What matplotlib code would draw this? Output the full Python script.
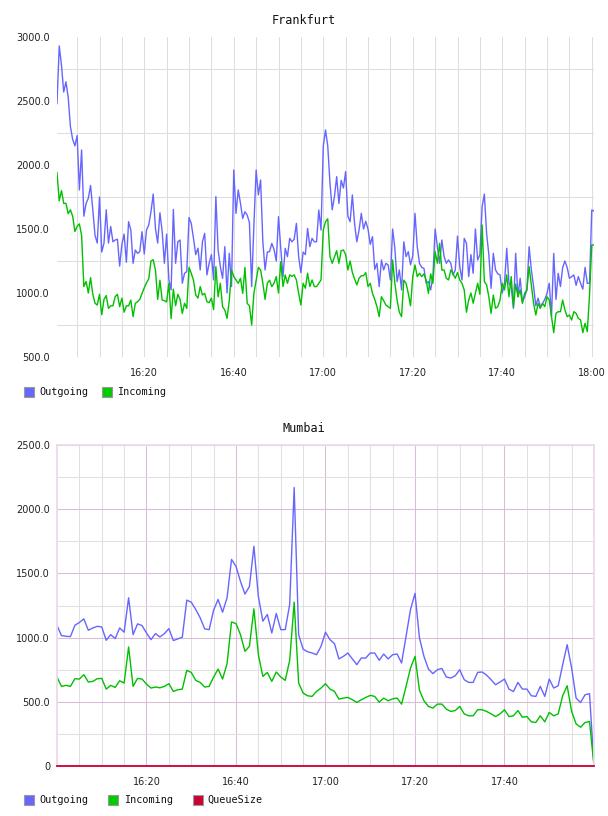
import matplotlib
matplotlib.use("Agg")
import matplotlib.pyplot as plt
import matplotlib.dates as mdates
from matplotlib.patches import Rectangle
from matplotlib.ticker import FixedLocator, FuncFormatter
import numpy as np
import pandas as pd

# Frankfurt, one sample every 30 s (16:00:30 .. 18:00:30), 10 values per 5 minutes
fra_outgoing = [
    2480, 2930, 2780, 2570, 2650, 2530, 2300, 2200, 2150, 2230,
    1805, 2117, 1600, 1700, 1740, 1840, 1650, 1450, 1390, 1750,
    1320, 1390, 1650, 1390, 1520, 1400, 1414, 1420, 1210, 1380,
    1460, 1240, 1557, 1492, 1232, 1336, 1310, 1323, 1479, 1305,
    1492, 1531, 1635, 1773, 1505, 1390, 1627, 1480, 1232, 1460,
    1102, 1024, 1653, 1232, 1400, 1414, 1076, 1154, 1167, 1590,
    1544, 1427, 1300, 1350, 1180, 1400, 1466, 1141, 1232, 1300,
    1102, 1753, 1336, 1206, 1115, 1362, 1000, 1310, 1050, 1961,
    1622, 1805, 1700, 1583, 1635, 1609, 1550, 1050, 1531, 1961,
    1766, 1883, 1400, 1180, 1320, 1323, 1388, 1340, 1250, 1596,
    1349, 1128, 1349, 1284, 1427, 1400, 1420, 1544, 1284, 1159,
    1320, 1300, 1505, 1362, 1427, 1400, 1400, 1648, 1492, 2144,
    2274, 2150, 1857, 1650, 1753, 1909, 1700, 1880, 1820, 1948,
    1600, 1557, 1766, 1540, 1400, 1492, 1622, 1500, 1560, 1500,
    1380, 1440, 1185, 1232, 1050, 1258, 1180, 1232, 1219, 1102,
    1500, 1349, 1089, 1180, 1024, 1400, 1284, 1323, 1220, 1290,
    1622, 1362, 1232, 1200, 1193, 1076, 1089, 1024, 1128, 1500,
    1362, 1232, 1414, 1284, 1232, 1258, 1232, 1141, 1180, 1445,
    1206, 1102, 1427, 1388, 1128, 1300, 1154, 1500, 1258, 1300,
    1674, 1773, 1466, 1300, 1037, 1310, 1180, 1150, 1141, 1000,
    1076, 1349, 1076, 1050, 880, 1310, 971, 1115, 930, 971,
    1024, 1362, 1180, 1050, 900, 960, 893, 919, 950, 997,
    1076, 815, 1310, 950, 1154, 1050, 1200, 1250, 1200, 1115,
    1128, 1141, 1060, 1128, 1076, 1030, 1200, 1076, 1076, 1648,
    1640,
]
fra_incoming = [
    1940, 1720, 1800, 1700, 1700, 1620, 1650, 1600, 1480, 1520,
    1540, 1450, 1050, 1090, 1000, 1120, 990, 920, 906, 990,
    830, 950, 980, 880, 900, 900, 971, 990, 893, 960,
    850, 900, 900, 945, 815, 919, 932, 950, 997, 1040,
    1080, 1110, 1250, 1260, 1180, 950, 1100, 945, 940, 930,
    1076, 800, 1030, 900, 990, 950, 840, 920, 880, 1200,
    1154, 1100, 985, 960, 1050, 984, 997, 932, 924, 960,
    870, 1206, 971, 1076, 893, 867, 802, 940, 1180, 1128,
    1102, 1076, 1115, 997, 1200, 919, 900, 750, 997, 1100,
    1200, 1180, 1076, 950, 1076, 1100, 1050, 1076, 1128, 1000,
    1245, 1050, 1141, 1076, 1141, 1130, 1141, 1102, 997, 906,
    1076, 1037, 1154, 1050, 1102, 1050, 1050, 1076, 1102, 1492,
    1557, 1580, 1284, 1232, 1280, 1330, 1232, 1330, 1336, 1300,
    1180, 1250, 1160, 1110, 1063, 1115, 1135, 1135, 1159, 1050,
    1076, 997, 950, 893, 815, 971, 940, 906, 893, 880,
    1258, 1076, 945, 850, 815, 1100, 1076, 997, 900, 1128,
    1219, 1128, 1154, 1128, 1150, 1100, 997, 1150, 1076, 1323,
    1232, 1388, 1180, 1180, 1115, 1102, 1180, 1150, 1115, 1160,
    1102, 1076, 1024, 850, 945, 1000, 920, 997, 1076, 990,
    1531, 1089, 1063, 970, 841, 984, 880, 893, 945, 1076,
    1024, 1141, 971, 1128, 893, 1070, 971, 1024, 919, 997,
    1024, 1206, 1063, 919, 828, 919, 880, 919, 893, 971,
    945, 815, 690, 841, 854, 854, 945, 867, 815, 828,
    789, 854, 841, 802, 789, 690, 763, 698, 984, 1375,
    1375,
]

# Mumbai, one sample per minute (16:00 .. 18:00)
mum_outgoing = [
    1094, 1016, 1010, 1008, 1096, 1118, 1146, 1057, 1075, 1088,
    1083, 979, 1023, 992, 1075, 1042, 1310, 1023, 1107, 1094,
    1036, 984, 1031, 1005, 1031, 1070, 977, 990, 1003, 1292,
    1276, 1219, 1154, 1068, 1062, 1214, 1297, 1198, 1310, 1609,
    1555, 1438, 1339, 1398, 1711, 1320, 1128, 1180, 1036, 1188,
    1062, 1062, 1258, 2169, 1023, 910, 890, 880, 867, 932,
    1042, 984, 953, 834, 854, 880, 834, 789, 841, 841,
    880, 880, 823, 872, 834, 867, 872, 802, 1010, 1219,
    1344, 997, 854, 755, 719, 750, 760, 693, 685, 703,
    750, 672, 651, 651, 729, 732, 708, 672, 633, 654,
    677, 599, 580, 651, 599, 599, 547, 542, 620, 542,
    677, 607, 625, 789, 945, 763, 529, 495, 555, 563,
    0,
]
mum_incoming = [
    693, 620, 628, 620, 680, 677, 711, 654, 659, 680,
    682, 599, 628, 612, 664, 646, 927, 620, 682, 677,
    638, 607, 615, 609, 620, 641, 581, 594, 599, 745,
    729, 667, 651, 615, 620, 693, 755, 677, 797, 1122,
    1109, 1023, 893, 932, 1224, 867, 698, 729, 659, 732,
    693, 667, 823, 1276, 646, 568, 547, 542, 581, 607,
    641, 599, 581, 521, 529, 534, 516, 495, 516, 534,
    550, 542, 497, 529, 508, 523, 529, 482, 620, 763,
    854, 589, 508, 464, 451, 482, 482, 443, 425, 432,
    464, 406, 391, 391, 438, 438, 425, 406, 385, 406,
    438, 385, 391, 432, 380, 385, 344, 339, 391, 344,
    417, 391, 406, 547, 625, 425, 328, 302, 339, 346,
    0,
]
mum_queue = [
    0, 0, 0, 0, 0, 0, 0, 0, 0, 0, 0, 0, 0, 0, 0, 0, 0, 0, 0, 0,
    0, 0, 0, 0, 0, 0, 0, 0, 0, 0, 0, 0, 0, 0, 0, 0, 0, 0, 0, 0,
    0, 0, 0, 0, 0, 0, 0, 0, 0, 0, 0, 0, 0, 0, 0, 0, 0, 0, 0, 0,
    0, 0, 0, 0, 0, 0, 0, 0, 0, 0, 0, 0, 0, 0, 0, 0, 0, 0, 0, 0,
    0, 0, 0, 0, 0, 0, 0, 0, 0, 0, 0, 0, 0, 0, 0, 0, 0, 0, 0, 0,
    0, 0, 0, 0, 0, 0, 0, 0, 0, 0, 0, 0, 0, 0, 0, 0, 0, 0, 0, 0,
    0,
]

fra_times = pd.date_range("2015-06-01 16:00:30", periods=len(fra_outgoing), freq="30s")
mum_times = pd.date_range("2015-06-01 16:00:00", periods=len(mum_outgoing), freq="1min")

BLUE = "#6666ff"
GREEN = "#00c000"
RED = "#cc0033"
W, H = 608, 816

fig = plt.figure(figsize=(W / 100, H / 100), dpi=100)


def px_axes(left, top, right, bottom):
    return fig.add_axes([left / W, 1 - bottom / H, (right - left) / W, (bottom - top) / H])


def yfmt(v, _):
    return "0" if v == 0 else f"{v:.1f}"


def style_ticks(ax):
    ax.tick_params(axis="both", which="both", length=0, labelsize=7, labelcolor="#222222")
    ax.tick_params(axis="x", pad=8)
    ax.tick_params(axis="y", pad=5)
    ax.xaxis.set_major_formatter(mdates.DateFormatter("%H:%M"))
    ax.yaxis.set_major_formatter(FuncFormatter(yfmt))
    ax.xaxis.set_minor_locator(mdates.MinuteLocator(byminute=range(0, 60, 5)))


def legend(y, entries):
    for xb, xt, label, color in entries:
        fig.add_artist(Rectangle((xb / W, 1 - (y + 5) / H), 10 / W, 10 / H, facecolor=color,
                                 edgecolor="#999999", lw=0.8, transform=fig.transFigure))
        fig.text(xt / W, 1 - y / H, label, va="center", ha="left",
                 family="DejaVu Sans Mono", fontsize=7.3, color="#111111")


# ---- Frankfurt ----
ax1 = px_axes(57, 37, 594, 357)
ax1.plot(fra_times, fra_outgoing, color=BLUE, lw=1.0)
ax1.plot(fra_times, fra_incoming, color=GREEN, lw=1.0)
ax1.set_xlim(fra_times[0], fra_times[-1])
ax1.set_ylim(500, 3000)
ax1.set_yticks(np.arange(500, 3001, 500))
ax1.yaxis.set_minor_locator(FixedLocator(np.arange(750, 3000, 500)))
ax1.xaxis.set_major_locator(mdates.MinuteLocator(byminute=[0, 20, 40]))
style_ticks(ax1)
ax1.grid(axis="x", which="both", color="#dedede", lw=0.75)
ax1.grid(axis="y", which="minor", color="#dedede", lw=0.75)
ax1.set_axisbelow(True)
for s in ax1.spines.values():
    s.set_visible(False)
fig.text(304 / W, 1 - 20 / H, "Frankfurt", ha="center", va="center",
         family="DejaVu Sans Mono", fontsize=8.5, color="#111111")
legend(392, [(24, 39, "Outgoing", BLUE), (102, 117, "Incoming", "#00cc00")])

# ---- Mumbai ----
ax2 = px_axes(57, 445, 594, 766)
ax2.plot(mum_times, mum_outgoing, color=BLUE, lw=1.0)
ax2.plot(mum_times, mum_incoming, color=GREEN, lw=1.0)
ax2.plot(mum_times, mum_queue, color=RED, lw=1.3, clip_on=False, zorder=4)
ax2.set_xlim(mum_times[0], mum_times[-1])
ax2.set_ylim(0, 2500)
ax2.set_yticks(np.arange(0, 2501, 500))
ax2.yaxis.set_minor_locator(FixedLocator(np.arange(250, 2500, 500)))
ax2.set_xticks(pd.date_range("2015-06-01 16:20", "2015-06-01 17:40", freq="20min"))
style_ticks(ax2)
ax2.grid(which="minor", color="#e0e0e0", lw=0.75)
ax2.grid(which="major", color="#d8bcd8", lw=0.75)
ax2.set_axisbelow(True)
for s in ax2.spines.values():
    s.set_color("#ecdaec")
    s.set_linewidth(1.3)
fig.text(304 / W, 1 - 429 / H, "Mumbai", ha="center", va="center",
         family="DejaVu Sans Mono", fontsize=8.5, color="#111111")
legend(800, [(24, 39, "Outgoing", BLUE), (108, 124, "Incoming", "#00cc00"),
             (193, 207, "QueueSize", RED)])

fig.savefig("out.png", dpi=100)
